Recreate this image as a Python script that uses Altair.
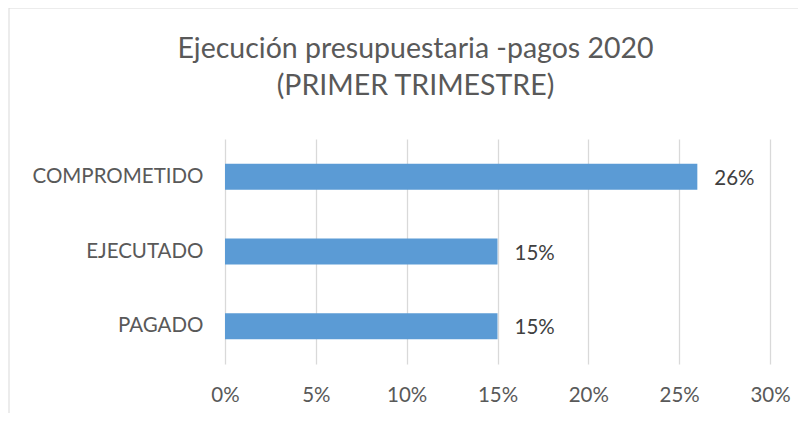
import altair as alt
import pandas as pd

categories = ["COMPROMETIDO", "EJECUTADO", "PAGADO"]
values = [0.26, 0.15, 0.15]
x_ticks = [0, 0.05, 0.10, 0.15, 0.20, 0.25, 0.30]

df = pd.DataFrame({"cat": categories, "val": values})

FONT = "Lato"
TXT = "#595959"
LBL = 20.5
FRAME = "#d9d9d9"

base = alt.Chart(df)

frame_left = base.mark_rule(color=FRAME, strokeWidth=1).encode(
    x=alt.value(-216), y=alt.value(-131), y2=alt.value(300)
).transform_filter(alt.datum.cat == "COMPROMETIDO")
frame_top = base.mark_rule(color=FRAME, strokeWidth=1).encode(
    x=alt.value(-216), x2=alt.value(600), y=alt.value(-131)
).transform_filter(alt.datum.cat == "COMPROMETIDO")

bars = base.mark_bar(color="#5b9bd5").encode(
    y=alt.Y("cat:N", sort=categories,
            scale=alt.Scale(paddingInner=0.65, paddingOuter=0.33),
            axis=alt.Axis(title=None, domain=False, ticks=False, labelPadding=22,
                          labelFontSize=LBL, labelColor=TXT, labelFont=FONT)),
    x=alt.X("val:Q", scale=alt.Scale(domain=[0, 0.30], nice=False),
            axis=alt.Axis(title=None, format=".0%", values=x_ticks, domain=False,
                          ticks=False, labelPadding=21, labelFontSize=LBL,
                          labelFlush=False, labelOverlap=False,
                          labelColor=TXT, labelFont=FONT, gridColor="#d9d9d9",
                          gridWidth=1.3)),
)

labels = base.mark_text(align="left", baseline="middle", dx=17, dy=2,
                        fontSize=LBL, color="#404040", font=FONT).encode(
    y=alt.Y("cat:N", sort=categories),
    x=alt.X("val:Q"),
    text=alt.Text("val:Q", format=".0%"),
)

chart = alt.layer(frame_left, frame_top, bars, labels).properties(
    width=545, height=225,
    autosize=alt.AutoSizeParams(type="none"),
    padding={"left": 217, "top": 131, "right": 28, "bottom": 49},
    title=alt.TitleParams(["Ejecución presupuestaria -pagos 2020", "(PRIMER TRIMESTRE)"],
                          fontSize=28.5, font=FONT, fontWeight="normal", color=TXT,
                          anchor="middle", frame="group", dx=-82, offset=46,
                          dy=162, baseline="alphabetic", lineHeight=37),
).configure_view(stroke=None)

chart.save("out.html", embed_options={"renderer": "svg", "actions": False})
